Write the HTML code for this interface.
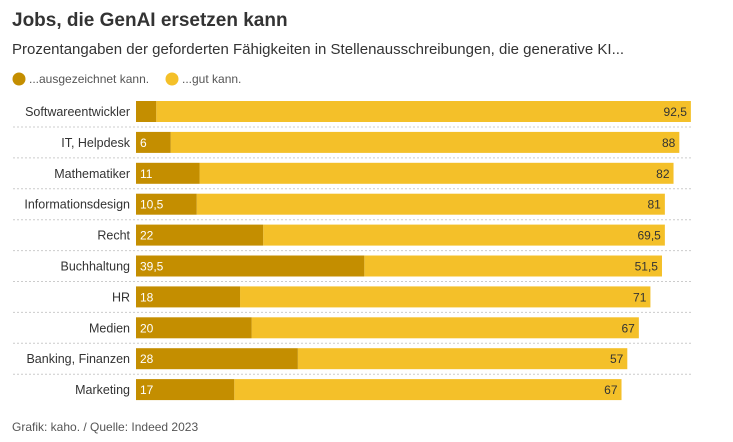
<!DOCTYPE html>
<html><head><meta charset="utf-8"><style>
body{margin:0;background:#fff;width:733px;height:442px;overflow:hidden;font-family:"Liberation Sans",sans-serif;color:#333}
</style></head><body>
<svg width="733" height="442" style="position:absolute;left:0;top:0">
<text x="12" y="26" font-size="19" font-weight="bold" fill="#333">Jobs, die GenAI ersetzen kann</text>
<text x="12" y="54" font-size="15" fill="#333">Prozentangaben der geforderten Fähigkeiten in Stellenausschreibungen, die generative KI...</text>
<g>
<circle cx="19" cy="79" r="6.5" fill="#c48e00"/>
<text x="29" y="83" font-size="12" fill="#555">...ausgezeichnet kann.</text>
<circle cx="172" cy="79" r="6.5" fill="#f4c029"/>
<text x="182" y="83" font-size="12" fill="#555">...gut kann.</text>
</g>
<g id="bars"></g>
<text x="12" y="431" font-size="12" fill="#555">Grafik: kaho. / Quelle: Indeed 2023</text>
</svg>
<script>
const categories=["Softwareentwickler","IT, Helpdesk","Mathematiker","Informationsdesign","Recht","Buchhaltung","HR","Medien","Banking, Finanzen","Marketing"];
const excellent=[3.5,6,11,10.5,22,39.5,18,20,28,17];
const good=[92.5,88,82,81,69.5,51.5,71,67,57,67];
const showExcellentLabel=[false,true,true,true,true,true,true,true,true,true];
const g=document.getElementById('bars');
const NS="http://www.w3.org/2000/svg";
const x0=136,scale=5.78,y0=101,pitch=30.9,bh=21;
const xs=v=>x0+v*scale;
const fmt=v=>String(v).replace('.',',');
function mk(t,a){const e=document.createElementNS(NS,t);for(const k in a)e.setAttribute(k,a[k]);g.appendChild(e);return e;}
categories.forEach((c,i)=>{
  const y=y0+i*pitch;
  if(i<categories.length-1){const l=mk('line',{x1:13,x2:691,y1:y+bh+5,y2:y+bh+5,stroke:'#ccc','stroke-dasharray':'2,2'});
  
  }
  const lab=mk('text',{x:130,y:y+15,'font-size':12.5,'text-anchor':'end',fill:'#333'});lab.textContent=c;
  
  
  const b2=mk('rect',{x:xs(excellent[i]),y:y,width:good[i]*scale,height:bh,fill:'#f4c029'});
  
  
  const b1=mk('rect',{x:x0,y:y,width:excellent[i]*scale,height:bh,fill:'#c48e00'});
  
  
  if(showExcellentLabel[i]){const t=mk('text',{x:x0+4,y:y+15,'font-size':12,fill:'#fff'});t.textContent=fmt(excellent[i]);
  
  }
  const t2=mk('text',{x:xs(excellent[i]+good[i])-4,y:y+15,'font-size':12,'text-anchor':'end',fill:'#333'});t2.textContent=fmt(good[i]);
  
  
});
</script>
</body></html>
